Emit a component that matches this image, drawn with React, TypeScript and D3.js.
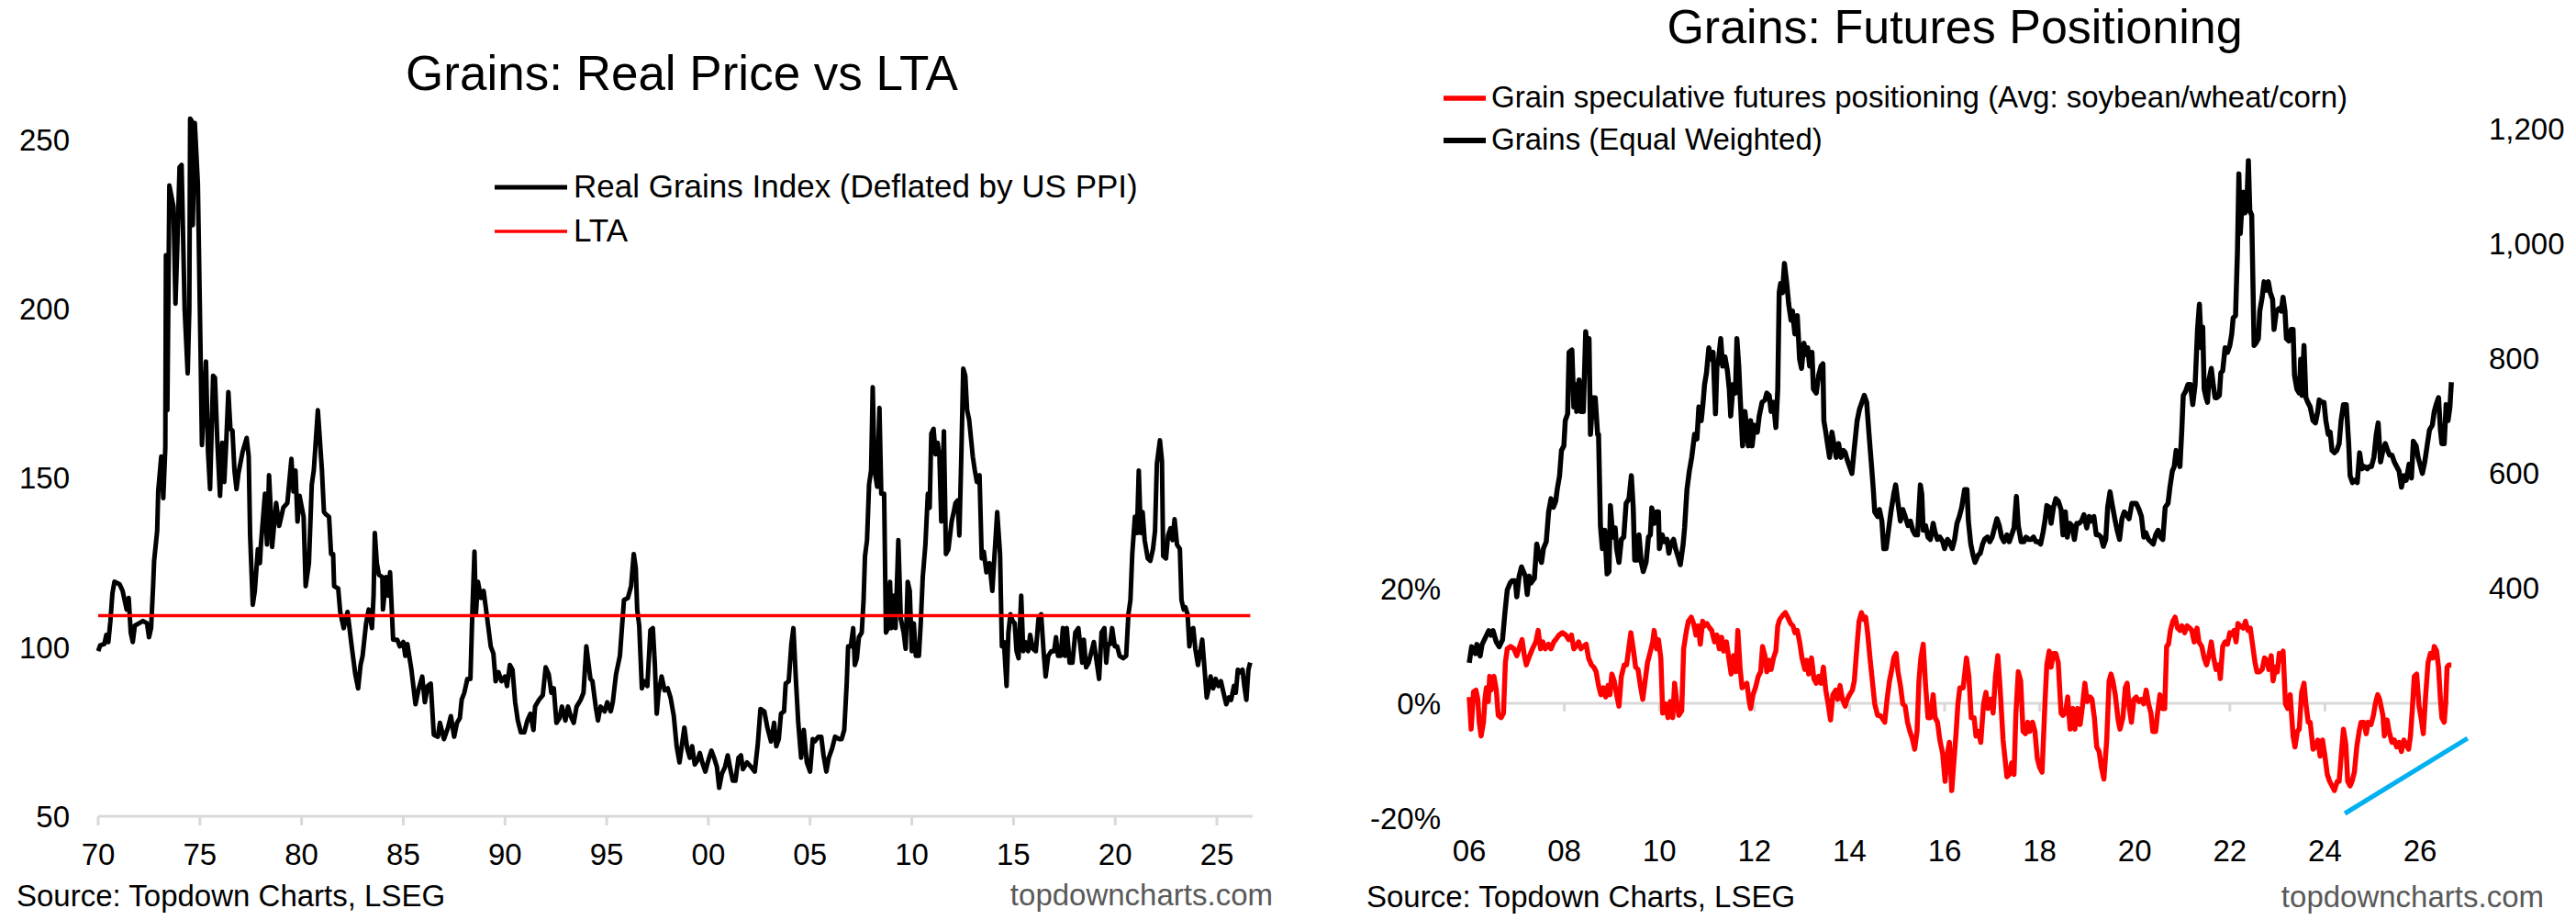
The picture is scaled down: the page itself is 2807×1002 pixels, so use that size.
import React from "react";
import * as d3 from "d3";

// ---- data ----
// Left: Real Grains Index (Deflated by US PPI), [year, value]
const realGrains: [number, number][] = [
  [1970.0,98.8],[1970.1,100.5],[1970.3,100.9],[1970.4,103.6],[1970.5,101.5],[1970.6,107.7],[1970.7,115.9],[1970.8,119.3],[1971.05,118.6],[1971.2,116.6],[1971.4,111.1],[1971.5,114.5],[1971.6,104.3],[1971.7,101.5],[1971.8,106.3],[1972.0,107],[1972.2,107.7],[1972.4,107],[1972.5,102.9],[1972.6,105.6],[1972.7,118],[1972.75,125.5],[1972.9,134.4],[1972.95,146],[1973.1,156.3],[1973.2,144],[1973.3,159],[1973.33,215.8],[1973.4,170],[1973.5,236.4],[1973.7,230.2],[1973.8,201.5],[1973.9,220.6],[1974.0,241.8],[1974.1,242.5],[1974.25,200],[1974.4,180.9],[1974.48,200],[1974.52,256.2],[1974.6,255.5],[1974.65,224.7],[1974.75,254.9],[1974.9,237],[1975.04,184.4],[1975.1,159.7],[1975.3,184.4],[1975.4,157.7],[1975.5,146.7],[1975.65,180.2],[1975.74,179.6],[1975.86,160.4],[1975.99,144.7],[1976.1,160.4],[1976.2,148.8],[1976.3,161.1],[1976.4,175.4],[1976.5,164.5],[1976.6,164],[1976.7,152.2],[1976.8,146.7],[1976.9,151.5],[1977.1,157.7],[1977.3,161.8],[1977.4,156.3],[1977.47,133],[1977.6,112.5],[1977.7,116.6],[1977.85,128.9],[1977.95,124.8],[1978.0,130.3],[1978.2,145.3],[1978.3,130.3],[1978.4,150.8],[1978.5,138.5],[1978.55,129.6],[1978.75,142.6],[1978.9,135.8],[1979.1,141.2],[1979.3,142.6],[1979.5,155.6],[1979.6,146],[1979.7,152.2],[1979.8,137.1],[1979.9,144.7],[1980.1,138.5],[1980.2,118],[1980.36,124.8],[1980.5,148],[1980.6,152.2],[1980.8,170],[1981.0,152.2],[1981.1,139.9],[1981.2,139.2],[1981.35,138.5],[1981.45,127.5],[1981.55,127.5],[1981.6,118],[1981.8,117.3],[1981.9,110.4],[1982.07,105.6],[1982.26,110.4],[1982.45,100.9],[1982.64,92],[1982.78,87.8],[1982.9,94.7],[1983.0,97.4],[1983.17,107],[1983.3,111.1],[1983.46,105.6],[1983.54,115.2],[1983.6,133.7],[1983.7,124.8],[1983.8,121.4],[1983.97,120.7],[1984.0,111.1],[1984.16,120.7],[1984.26,115.2],[1984.35,122.1],[1984.5,102.2],[1984.7,102.2],[1984.83,100.2],[1985.0,101.5],[1985.1,97.4],[1985.2,100.9],[1985.4,93.3],[1985.6,83.1],[1985.74,87.2],[1985.93,91.3],[1986.06,83.7],[1986.2,88.5],[1986.35,89.2],[1986.5,74.1],[1986.7,73.5],[1986.8,77.6],[1987.0,72.8],[1987.2,76.2],[1987.34,79.6],[1987.5,73.5],[1987.64,77.6],[1987.78,79],[1987.87,84.4],[1988.0,86.5],[1988.15,90.6],[1988.3,90.6],[1988.4,111.1],[1988.5,128.2],[1988.57,109.7],[1988.67,119.3],[1988.82,114.5],[1988.95,116.6],[1989.1,109.7],[1989.3,100.2],[1989.43,98.1],[1989.54,89.9],[1989.68,92.6],[1989.83,89.9],[1990.0,91.3],[1990.1,88.5],[1990.24,94.7],[1990.37,93.3],[1990.5,83.7],[1990.63,78.3],[1990.78,74.8],[1990.95,74.8],[1991.1,78.3],[1991.25,80.3],[1991.4,75.5],[1991.48,82.4],[1991.67,84.4],[1991.86,85.8],[1992.0,94],[1992.15,92],[1992.28,86.5],[1992.4,87.8],[1992.53,77.6],[1992.68,79],[1992.8,82.4],[1992.97,78.3],[1993.1,82.4],[1993.23,79.6],[1993.38,77.6],[1993.52,82.4],[1993.72,84.4],[1993.86,86.5],[1994.0,100.2],[1994.1,95.4],[1994.2,90.6],[1994.3,89.9],[1994.46,82.4],[1994.57,78.3],[1994.7,82.4],[1994.9,81],[1995.03,83.7],[1995.2,81],[1995.3,83.7],[1995.46,92],[1995.65,97.4],[1995.85,113.9],[1996.04,114.5],[1996.2,118],[1996.33,127.5],[1996.43,123.4],[1996.5,111.1],[1996.6,106.3],[1996.73,87.8],[1996.85,89.9],[1997.0,88.5],[1997.15,105],[1997.27,105.6],[1997.37,94.7],[1997.46,80.3],[1997.55,86.5],[1997.7,91.3],[1997.85,87.2],[1998.0,87.8],[1998.14,85.1],[1998.3,79.6],[1998.44,70.7],[1998.58,65.9],[1998.82,76.2],[1998.96,70],
  [1999.09,67.3],[1999.2,70.7],[1999.33,65.3],[1999.47,66.6],[1999.58,68.7],[1999.7,65.9],[1999.85,63.2],[2000.0,66.6],[2000.15,69.4],[2000.28,67.3],[2000.42,64.6],[2000.53,58.4],[2000.66,62.5],[2000.82,64.6],[2000.95,68],[2001.08,63.9],[2001.2,60.5],[2001.33,60.5],[2001.48,67.3],[2001.6,68],[2001.7,63.9],[2001.9,65.9],[2002.1,64.6],[2002.28,63.2],[2002.43,71.4],[2002.56,81.7],[2002.75,81],[2002.9,76.2],[2003.08,72.1],[2003.23,77.6],[2003.34,70.7],[2003.46,72.8],[2003.57,80.3],[2003.72,81],[2003.8,89.2],[2003.95,89.9],[2004.08,100.9],[2004.18,105.6],[2004.3,90.6],[2004.42,77.6],[2004.56,67.3],[2004.69,75.5],[2004.84,65.9],[2005.0,63.2],[2005.13,72.8],[2005.22,72.1],[2005.41,73.5],[2005.55,73.5],[2005.66,68],[2005.8,63.2],[2005.92,67.3],[2006.08,70],[2006.23,73.5],[2006.42,72.8],[2006.55,72.8],[2006.68,75.5],[2006.8,89.2],[2006.87,100.2],[2007.0,100.2],[2007.12,105.6],[2007.2,94.7],[2007.3,96.7],[2007.4,102.9],[2007.54,104.3],[2007.63,113.9],[2007.7,126.9],[2007.8,131.6],[2007.9,148.1],[2008.0,152.2],[2008.08,176.8],[2008.17,152.2],[2008.3,147.4],[2008.41,170.7],[2008.5,145.3],[2008.64,145.3],[2008.73,104.3],[2008.83,105.6],[2008.93,119.3],[2009.0,105.6],[2009.12,115.2],[2009.2,105.6],[2009.34,131.6],[2009.46,108.4],[2009.6,104.3],[2009.7,99.5],[2009.8,119.3],[2009.9,116.6],[2010.0,98.8],[2010.1,107],[2010.2,97.4],[2010.35,97.4],[2010.44,107],[2010.54,120.7],[2010.67,130.3],[2010.79,145.3],[2010.88,141.2],[2010.96,163.1],[2011.07,164.5],[2011.17,157],[2011.27,160.4],[2011.36,156.3],[2011.45,137.1],[2011.58,163.8],[2011.68,127.5],[2011.8,128.9],[2011.96,137.1],[2012.06,139.9],[2012.15,142.6],[2012.25,143.3],[2012.34,133],[2012.44,157.7],[2012.53,182.3],[2012.63,180.2],[2012.72,170],[2012.82,167.2],[2012.91,161.8],[2013.0,156.3],[2013.1,152.2],[2013.2,148.8],[2013.33,150.8],[2013.44,126.2],[2013.54,128.2],[2013.67,122.1],[2013.82,124.8],[2013.96,116.6],[2014.1,130.3],[2014.2,139.9],[2014.34,127.5],[2014.43,100.2],[2014.53,101.5],[2014.66,88.5],[2014.75,104.3],[2014.85,109.7],[2014.96,107.7],[2015.06,107],[2015.15,98.8],[2015.25,96.7],[2015.38,115.2],[2015.48,98.8],[2015.57,101.5],[2015.72,98.8],[2015.82,103.6],[2015.95,99.5],[2016.1,98.8],[2016.23,108.4],[2016.36,109.7],[2016.48,98.8],[2016.58,91.3],[2016.71,97.4],[2016.86,98.8],[2017.0,98.8],[2017.09,102.9],[2017.19,97.4],[2017.32,97.4],[2017.43,105.6],[2017.53,97.4],[2017.62,105.6],[2017.76,95.4],[2017.9,95.4],[2018.04,104.3],[2018.19,105.6],[2018.29,100.2],[2018.38,95.4],[2018.46,102.2],[2018.57,94],[2018.7,95.4],[2018.84,98.8],[2018.95,101.5],[2019.08,96.1],[2019.21,90.6],[2019.33,104.3],[2019.47,105.6],[2019.56,95.4],[2019.65,100.9],[2019.75,100.9],[2019.85,105.6],[2019.98,100.2],[2020.1,100.2],[2020.22,97.4],[2020.4,96.7],[2020.54,97.4],[2020.65,109.7],[2020.75,113.9],[2020.84,127.5],[2020.97,138.5],[2021.07,133.7],[2021.16,152.2],[2021.26,133.7],[2021.35,139.9],[2021.45,131.6],[2021.6,126.2],[2021.73,125.5],[2021.86,129],[2021.96,134.4],[2022.05,154.2],[2022.2,161.1],[2022.3,155],[2022.36,126.9],[2022.5,126.2],[2022.6,133],[2022.72,135.1],[2022.82,131.6],[2022.92,137.8],[2023.04,130.3],[2023.18,129],[2023.26,113.9],[2023.37,111.1],[2023.45,111.8],[2023.56,109.7],[2023.65,100.2],[2023.74,105],[2023.84,105.6],[2023.94,99.5],[2024.07,94.7],[2024.17,98.1],[2024.28,102.2],[2024.37,95.4],[2024.5,85.1],[2024.6,87.8],[2024.69,91.3],[2024.82,87.8],[2024.94,90.6],[2025.07,88.5],[2025.2,89.9],[2025.3,87.2],[2025.46,83.1],[2025.59,85.1],[2025.7,84.4],[2025.84,88.5],[2025.93,86.5],[2026.03,93.3],[2026.16,92.6],[2026.26,93.3],[2026.35,88.5],[2026.45,84.4],[2026.55,93.3],[2026.64,95.4],
];
const ltaValue = 109.3;
const leftXTicks = [1970, 1975, 1980, 1985, 1990, 1995, 2000, 2005, 2010, 2015, 2020, 2025];
const leftYTicks = [50, 100, 150, 200, 250];

// Right: Grain speculative futures positioning (% , avg soybean/wheat/corn)
const positioning: [number, number][] = [
  [2006.0,1.1],[2006.04,-4.5],[2006.09,2.0],[2006.14,2.3],[2006.18,0.7],[2006.21,-3.3],[2006.25,-5.7],[2006.3,-3.3],[2006.33,0.7],[2006.36,2.7],[2006.4,0.3],[2006.43,4.7],[2006.46,2.3],[2006.52,4.7],[2006.57,2.3],[2006.61,-2.1],[2006.67,-2.5],[2006.72,-1.7],[2006.76,7.1],[2006.8,9.5],[2006.87,9.9],[2006.94,9.5],[2007.0,8.3],[2007.06,9.9],[2007.11,11.1],[2007.16,8.3],[2007.2,6.7],[2007.27,8.3],[2007.33,9.5],[2007.4,10.7],[2007.45,12.7],[2007.5,9.5],[2007.55,10.7],[2007.6,9.5],[2007.67,10.3],[2007.72,9.5],[2007.78,10.7],[2007.82,11.1],[2007.89,11.9],[2007.96,12.3],[2008.03,11.9],[2008.09,11.1],[2008.15,11.9],[2008.2,9.5],[2008.24,9.9],[2008.3,10.7],[2008.35,9.5],[2008.4,9.9],[2008.46,10.3],[2008.51,7.9],[2008.57,6.7],[2008.62,6.3],[2008.67,5.5],[2008.72,3.1],[2008.77,1.5],[2008.82,2.7],[2008.87,1.1],[2008.92,3.1],[2008.96,1.5],[2009.0,5.1],[2009.05,3.9],[2009.1,1.5],[2009.15,-0.5],[2009.2,4.7],[2009.26,6.7],[2009.31,6.7],[2009.36,9.9],[2009.4,12.3],[2009.45,9.5],[2009.5,6.3],[2009.55,5.9],[2009.6,3.1],[2009.65,0.7],[2009.7,3.9],[2009.75,7.1],[2009.8,8.7],[2009.86,10.7],[2009.89,12.7],[2009.94,9.5],[2009.98,11.1],[2010.03,7.9],[2010.07,-1.7],[2010.13,-0.1],[2010.18,-2.5],[2010.23,0.3],[2010.28,-2.5],[2010.32,3.5],[2010.37,-0.1],[2010.41,-2.1],[2010.47,-1.3],[2010.51,9.5],[2010.57,12.7],[2010.61,14.3],[2010.67,15.0],[2010.72,13.9],[2010.77,11.9],[2010.82,13.5],[2010.86,10.3],[2010.91,14.3],[2010.95,13.5],[2011.0,13.9],[2011.06,13.1],[2011.1,12.7],[2011.16,10.7],[2011.21,11.9],[2011.26,9.5],[2011.31,11.5],[2011.35,9.1],[2011.41,10.7],[2011.46,7.9],[2011.51,5.1],[2011.56,8.3],[2011.61,5.5],[2011.65,12.7],[2011.7,5.9],[2011.74,2.7],[2011.79,3.1],[2011.84,3.5],[2011.89,0.3],[2011.92,-0.9],[2011.97,1.5],[2012.02,2.7],[2012.08,4.7],[2012.13,5.5],[2012.17,9.9],[2012.22,8.3],[2012.26,5.5],[2012.31,7.5],[2012.35,5.9],[2012.4,7.9],[2012.45,9.1],[2012.49,13.5],[2012.53,14.6],[2012.6,15.4],[2012.65,15.8],[2012.7,15.0],[2012.76,13.9],[2012.81,13.5],[2012.85,12.3],[2012.9,12.7],[2012.95,10.7],[2013.0,7.9],[2013.06,5.9],[2013.1,7.5],[2013.14,5.1],[2013.2,7.9],[2013.25,4.3],[2013.3,3.5],[2013.35,4.7],[2013.4,3.5],[2013.45,6.3],[2013.5,2.3],[2013.55,-0.1],[2013.6,-2.9],[2013.65,1.5],[2013.71,2.3],[2013.75,0.7],[2013.8,3.1],[2013.85,0.7],[2013.91,-0.5],[2013.95,0.7],[2014.0,1.5],[2014.06,2.3],[2014.1,3.9],[2014.16,10.3],[2014.2,14.3],[2014.25,15.8],[2014.3,14.6],[2014.34,15.0],[2014.38,12.3],[2014.43,7.9],[2014.48,3.9],[2014.53,-0.1],[2014.59,-2.1],[2014.64,-2.1],[2014.68,-2.5],[2014.74,-3.3],[2014.79,0.7],[2014.84,3.9],[2014.88,5.5],[2014.93,7.9],[2014.98,8.7],[2015.02,5.5],[2015.07,3.1],[2015.12,-0.1],[2015.17,-0.5],[2015.22,-3.3],[2015.27,-4.9],[2015.32,-6.1],[2015.37,-8.0],[2015.42,-4.9],[2015.46,3.9],[2015.5,7.9],[2015.55,10.3],[2015.6,3.1],[2015.65,-2.5],[2015.7,-2.5],[2015.76,1.5],[2015.8,-2.5],[2015.85,-3.3],[2015.9,-6.4],[2015.96,-8.8],[2016.01,-13.6],[2016.06,-8.8],[2016.1,-6.8],[2016.15,-15.2],[2016.2,-9.6],[2016.24,-5.3],[2016.28,-0.1],[2016.32,2.7],[2016.39,2.7],[2016.46,7.9],[2016.51,4.7],[2016.56,-2.5],[2016.62,-2.5],[2016.66,-5.7],[2016.71,-4.9],[2016.76,-6.8],[2016.82,-0.1],[2016.87,1.9],[2016.91,-0.9],[2016.97,0.7],[2017.02,-1.7],[2017.07,4.7],[2017.12,8.3],[2017.17,2.3],[2017.23,-6.4],[2017.27,-9.6],[2017.31,-12.8],[2017.36,-12.4],[2017.41,-10.4],[2017.46,-12.4],[2017.5,-1.7],[2017.55,5.5],[2017.6,3.9],[2017.65,-4.9],[2017.7,-5.3],[2017.75,-3.3],[2017.79,-4.9],[2017.85,-3.3],[2017.9,-4.9],[2017.95,-9.6],[2018.0,-11.2],[2018.05,-12.0],[2018.11,-0.1],[2018.15,6.7],[2018.2,9.1],[2018.24,6.3],[2018.29,8.7],[2018.34,8.7],[2018.39,7.1],[2018.45,-1.7],[2018.49,-2.1],[2018.54,-1.7],[2018.59,1.1],[2018.64,-4.5],[2018.7,-0.9],[2018.74,-4.5],[2018.8,-0.9],[2018.85,-3.7],[2018.9,-0.5],[2018.95,3.5],[2019.0,0.3],[2019.06,1.1],[2019.1,0.7],[2019.15,-2.5],[2019.2,-7.6],[2019.25,-8.4],[2019.3,-11.2],[2019.35,-13.2],[2019.41,-6.4],[2019.46,3.9],[2019.5,5.1],[2019.54,3.9],[2019.59,1.5],[2019.65,-2.9],[2019.69,-4.5],[2019.75,-2.5],[2019.8,2.7],[2019.84,3.5],[2019.88,-0.5],[2019.93,-3.3],[2019.98,0.7],[2020.03,1.1],[2020.09,0.3],[2020.14,0.7],[2020.19,-0.1],[2020.24,2.3],[2020.29,-0.1],[2020.34,-1.7],[2020.38,-4.9],[2020.44,-4.9],[2020.48,-1.7],[2020.53,1.5],[2020.58,-0.9],[2020.63,-0.9],[2020.67,9.9],[2020.71,10.3],[2020.75,12.7],[2020.8,14.3],[2020.85,15.0],[2020.9,13.1],[2020.95,12.7],[2020.99,13.5],[2021.05,12.3],[2021.1,13.5],[2021.16,13.1],[2021.2,12.7],[2021.25,10.7],[2021.31,13.1],[2021.35,10.7],[2021.41,9.9],[2021.46,7.9],[2021.51,6.7],[2021.56,8.3],[2021.61,10.7],[2021.66,7.9],[2021.71,5.9],[2021.77,6.7],[2021.8,4.3],[2021.85,9.9],[2021.9,10.7],[2021.95,10.3],[2022.0,12.3],[2022.04,11.9],[2022.09,12.7],[2022.13,10.7],[2022.17,13.9],[2022.22,13.5],[2022.28,13.1],[2022.33,14.3],[2022.38,12.7],[2022.43,13.1],[2022.47,10.7],[2022.53,7.1],[2022.57,5.5],[2022.63,5.5],[2022.68,5.9],[2022.73,7.9],[2022.78,7.5],[2022.82,5.9],[2022.87,8.3],[2022.91,3.9],[2022.96,6.3],[2023.0,5.5],[2023.04,8.7],[2023.08,7.9],[2023.12,9.1],[2023.17,-0.1],[2023.22,-0.9],[2023.27,1.5],[2023.33,-5.7],[2023.37,-7.6],[2023.42,-4.9],[2023.46,-4.5],[2023.51,1.9],[2023.56,3.5],[2023.6,-0.1],[2023.65,-3.3],[2023.69,-3.3],[2023.75,-8.0],[2023.8,-7.6],[2023.85,-6.4],[2023.9,-9.2],[2023.95,-6.4],[2024.0,-9.2],[2024.05,-12.4],[2024.1,-13.6],[2024.15,-14.4],[2024.2,-15.2],[2024.26,-13.6],[2024.3,-13.6],[2024.35,-8.4],[2024.39,-4.5],[2024.44,-7.2],[2024.48,-13.6],[2024.53,-14.4],[2024.57,-13.6],[2024.62,-12.0],[2024.67,-7.6],[2024.72,-4.9],[2024.76,-3.3],[2024.82,-3.3],[2024.87,-5.3],[2024.91,-3.3],[2024.97,-3.7],[2025.02,-2.1],[2025.06,-0.1],[2025.11,1.5],[2025.15,0.7],[2025.22,-2.1],[2025.25,-5.7],[2025.31,-2.9],[2025.35,-4.9],[2025.41,-6.8],[2025.46,-6.4],[2025.51,-7.6],[2025.56,-6.8],[2025.61,-8.4],[2025.66,-6.4],[2025.71,-7.2],[2025.76,-8.0],[2025.8,-5.7],[2025.84,-0.9],[2025.88,4.7],[2025.93,5.1],[2025.98,-0.5],[2026.03,-2.9],[2026.07,-5.3],[2026.12,1.5],[2026.17,7.1],[2026.22,8.7],[2026.27,7.9],[2026.3,9.9],[2026.35,9.1],[2026.39,6.3],[2026.43,0.7],[2026.46,-2.5],[2026.51,-3.3],[2026.54,-0.1],[2026.57,6.3],[2026.61,6.7],[2026.66,6.7],
];

// Right: Grains (Equal Weighted), right axis
const grainsEW: [number, number][] = [
  [2006.0,269],[2006.05,297],[2006.13,285],[2006.16,301],[2006.23,281],[2006.27,301],[2006.34,313],[2006.41,325],[2006.46,317],[2006.5,325],[2006.57,305],[2006.63,297],[2006.7,309],[2006.75,356],[2006.8,396],[2006.86,408],[2006.9,412],[2006.97,412],[2007.0,384],[2007.05,420],[2007.1,436],[2007.18,420],[2007.22,388],[2007.26,420],[2007.3,408],[2007.37,416],[2007.42,476],[2007.47,456],[2007.52,444],[2007.56,468],[2007.62,480],[2007.67,532],[2007.72,555],[2007.77,540],[2007.82,551],[2007.85,571],[2007.9,595],[2007.94,639],[2007.99,647],[2008.02,691],[2008.07,703],[2008.1,810],[2008.16,814],[2008.2,715],[2008.23,754],[2008.26,707],[2008.31,762],[2008.35,707],[2008.4,707],[2008.45,846],[2008.49,802],[2008.52,834],[2008.55,667],[2008.6,731],[2008.65,731],[2008.7,667],[2008.72,667],[2008.76,508],[2008.8,468],[2008.85,500],[2008.9,424],[2008.94,428],[2008.97,543],[2009.02,488],[2009.07,504],[2009.1,468],[2009.15,444],[2009.2,484],[2009.25,488],[2009.3,547],[2009.36,555],[2009.41,595],[2009.45,539],[2009.48,448],[2009.53,448],[2009.57,492],[2009.62,444],[2009.66,428],[2009.72,444],[2009.77,488],[2009.81,492],[2009.84,539],[2009.89,512],[2009.94,532],[2009.98,532],[2010.0,468],[2010.06,492],[2010.1,480],[2010.16,484],[2010.2,460],[2010.24,476],[2010.3,484],[2010.34,468],[2010.4,452],[2010.44,440],[2010.5,476],[2010.53,504],[2010.58,571],[2010.63,603],[2010.68,627],[2010.74,667],[2010.79,659],[2010.83,715],[2010.88,691],[2010.92,723],[2010.95,754],[2010.99,774],[2011.04,818],[2011.09,798],[2011.13,810],[2011.18,703],[2011.21,786],[2011.24,794],[2011.29,834],[2011.33,786],[2011.38,802],[2011.43,778],[2011.47,746],[2011.5,699],[2011.55,754],[2011.6,739],[2011.63,834],[2011.67,786],[2011.7,731],[2011.75,647],[2011.8,707],[2011.84,675],[2011.87,647],[2011.92,691],[2011.95,647],[2012.0,683],[2012.06,671],[2012.1,699],[2012.16,723],[2012.22,727],[2012.26,739],[2012.31,735],[2012.35,707],[2012.4,723],[2012.45,679],[2012.49,746],[2012.52,914],[2012.55,930],[2012.59,914],[2012.63,965],[2012.68,930],[2012.72,894],[2012.77,866],[2012.8,882],[2012.85,842],[2012.9,874],[2012.95,798],[2012.99,782],[2013.04,826],[2013.09,806],[2013.12,818],[2013.16,786],[2013.21,810],[2013.24,746],[2013.3,739],[2013.35,770],[2013.4,786],[2013.44,790],[2013.46,691],[2013.5,671],[2013.55,643],[2013.58,627],[2013.63,671],[2013.67,651],[2013.72,627],[2013.77,651],[2013.82,627],[2013.87,639],[2013.91,635],[2013.95,623],[2014.0,611],[2014.05,599],[2014.1,643],[2014.16,691],[2014.21,711],[2014.26,723],[2014.31,735],[2014.36,723],[2014.41,667],[2014.46,615],[2014.5,571],[2014.53,532],[2014.59,524],[2014.63,536],[2014.68,516],[2014.72,468],[2014.77,468],[2014.82,500],[2014.87,532],[2014.93,563],[2014.97,579],[2015.02,547],[2015.07,516],[2015.12,536],[2015.17,524],[2015.23,508],[2015.28,516],[2015.33,500],[2015.38,492],[2015.43,492],[2015.49,579],[2015.52,563],[2015.55,500],[2015.6,508],[2015.65,488],[2015.7,484],[2015.76,512],[2015.8,496],[2015.85,484],[2015.9,488],[2015.96,480],[2016.0,468],[2016.06,484],[2016.1,480],[2016.16,468],[2016.21,484],[2016.26,512],[2016.31,524],[2016.36,540],[2016.42,571],[2016.47,571],[2016.5,516],[2016.55,476],[2016.6,456],[2016.64,444],[2016.7,456],[2016.75,460],[2016.8,476],[2016.84,484],[2016.9,488],[2016.95,480],[2017.0,488],[2017.05,504],[2017.1,520],[2017.15,508],[2017.2,488],[2017.25,480],[2017.31,492],[2017.36,480],[2017.41,492],[2017.46,504],[2017.51,559],[2017.55,508],[2017.61,480],[2017.67,480],[2017.71,488],[2017.77,484],[2017.82,484],[2017.87,488],[2017.92,480],[2017.97,480],[2018.02,476],[2018.07,496],[2018.11,516],[2018.15,543],[2018.2,540],[2018.24,512],[2018.29,540],[2018.34,555],[2018.39,551],[2018.45,536],[2018.49,492],[2018.54,532],[2018.58,488],[2018.63,512],[2018.68,508],[2018.73,484],[2018.78,512],[2018.83,512],[2018.88,516],[2018.93,527],[2018.99,504],[2019.04,524],[2019.09,516],[2019.14,524],[2019.19,492],[2019.24,492],[2019.29,488],[2019.34,472],[2019.39,484],[2019.43,540],[2019.48,567],[2019.52,547],[2019.58,520],[2019.63,500],[2019.68,484],[2019.73,520],[2019.78,532],[2019.83,527],[2019.88,520],[2019.94,547],[2019.98,547],[2020.03,547],[2020.09,536],[2020.14,524],[2020.19,488],[2020.23,496],[2020.29,484],[2020.34,480],[2020.39,476],[2020.44,492],[2020.49,500],[2020.54,488],[2020.59,484],[2020.64,540],[2020.7,547],[2020.74,575],[2020.79,603],[2020.83,611],[2020.87,639],[2020.91,627],[2020.95,611],[2020.99,675],[2021.02,735],[2021.07,742],[2021.12,754],[2021.17,754],[2021.22,719],[2021.27,754],[2021.32,850],[2021.36,894],[2021.4,818],[2021.43,854],[2021.46,746],[2021.5,731],[2021.53,723],[2021.56,762],[2021.61,782],[2021.65,754],[2021.69,731],[2021.73,731],[2021.78,735],[2021.81,774],[2021.85,778],[2021.9,818],[2021.95,810],[2022.0,822],[2022.04,842],[2022.07,870],[2022.12,874],[2022.16,985],[2022.19,1121],[2022.22,1017],[2022.26,1073],[2022.29,1089],[2022.32,1053],[2022.36,1073],[2022.39,1144],[2022.42,1057],[2022.46,1049],[2022.51,822],[2022.55,826],[2022.6,834],[2022.63,882],[2022.68,906],[2022.72,933],[2022.76,918],[2022.81,933],[2022.85,914],[2022.9,902],[2022.93,850],[2022.98,882],[2023.03,886],[2023.08,882],[2023.12,906],[2023.16,882],[2023.19,834],[2023.24,830],[2023.29,850],[2023.33,850],[2023.36,770],[2023.41,746],[2023.46,739],[2023.49,798],[2023.52,735],[2023.56,822],[2023.6,731],[2023.64,723],[2023.69,715],[2023.75,691],[2023.8,687],[2023.85,707],[2023.88,727],[2023.94,723],[2023.98,723],[2024.02,691],[2024.07,667],[2024.11,671],[2024.15,639],[2024.2,635],[2024.25,639],[2024.3,651],[2024.34,691],[2024.39,719],[2024.45,719],[2024.5,651],[2024.53,595],[2024.58,583],[2024.63,587],[2024.68,583],[2024.73,635],[2024.78,607],[2024.83,611],[2024.89,607],[2024.93,611],[2024.98,611],[2025.03,627],[2025.08,667],[2025.12,687],[2025.17,619],[2025.22,639],[2025.27,651],[2025.32,639],[2025.36,631],[2025.41,631],[2025.46,619],[2025.51,611],[2025.56,603],[2025.61,575],[2025.66,595],[2025.71,587],[2025.77,615],[2025.82,591],[2025.86,655],[2025.92,647],[2025.96,627],[2026.0,615],[2026.05,599],[2026.1,619],[2026.15,647],[2026.2,675],[2026.26,683],[2026.3,707],[2026.34,719],[2026.39,731],[2026.43,675],[2026.46,651],[2026.51,651],[2026.55,719],[2026.59,691],[2026.63,715],[2026.66,758],
];
const rightXTicks = [2006, 2008, 2010, 2012, 2014, 2016, 2018, 2020, 2022, 2024, 2026];
const pctTicks = [-20, 0, 20];
const priceTicks = [400, 600, 800, 1000, 1200];
// hand-drawn trend annotation, [year, pct]
const trendLine: [number, number][] = [[2024.42, -19.2], [2027.0, -6.1]];

const FONT = "'Liberation Sans', Arial, Helvetica, sans-serif";
const GRID = "#d9d9d9";

export default function App() {
  const W = 2807, H = 1002;

  // left chart scales
  const xL = d3.scaleLinear().domain([1970, 2025]).range([107, 1326]);
  const yL = d3.scaleLinear().domain([50, 250]).range([889, 152]);
  const leftEnd = 2026.75;

  // right chart scales
  const xR = d3.scaleLinear().domain([2006, 2026]).range([1601, 2637]);
  const yPct = d3.scaleLinear().domain([-20, 20]).range([891, 641]);
  const yPx = d3.scaleLinear().domain([400, 1200]).range([640, 140]);
  const rightEnd = 2026.62;

  const lineL = d3.line<[number, number]>().x((d) => xL(d[0])).y((d) => yL(d[1]));
  const linePct = d3.line<[number, number]>().x((d) => xR(d[0])).y((d) => yPct(d[1]));
  const linePx = d3.line<[number, number]>().x((d) => xR(d[0])).y((d) => yPx(d[1]));

  const yrLabel = (y: number) => String(y % 100).padStart(2, "0");
  const fmtNum = d3.format(",");

  return (
    <svg width={W} height={H} style={{ position: "absolute", left: 0, top: 0, background: "#fff" }} fontFamily={FONT}>
      <rect width={W} height={H} fill="#fff" />

      {/* ---------- left chart ---------- */}
      <text x={743} y={98} fontSize={53} textAnchor="middle" fill="#000">Grains: Real Price vs LTA</text>

      <line x1={xL(1970)} x2={xL(leftEnd)} y1={yL(50)} y2={yL(50)} stroke={GRID} strokeWidth={3} />
      {leftXTicks.map((t) => (
        <g key={t}>
          <line x1={xL(t)} x2={xL(t)} y1={yL(50)} y2={yL(50) + 10} stroke={GRID} strokeWidth={3} />
          <text x={xL(t)} y={942} fontSize={33} textAnchor="middle">{yrLabel(t)}</text>
        </g>
      ))}
      {leftYTicks.map((t) => (
        <text key={t} x={76} y={yL(t)} dy="0.36em" fontSize={33} textAnchor="end">{t}</text>
      ))}

      <path d={lineL(realGrains) || ""} fill="none" stroke="#000" strokeWidth={5} strokeLinejoin="round" />
      <line x1={xL(1970)} x2={xL(2026.64)} y1={yL(ltaValue)} y2={yL(ltaValue)} stroke="#ff0000" strokeWidth={3.5} />

      <line x1={539} x2={618} y1={204} y2={204} stroke="#000" strokeWidth={5} />
      <text x={625} y={215} fontSize={35}>Real Grains Index (Deflated by US PPI)</text>
      <line x1={539} x2={618} y1={252} y2={252} stroke="#ff0000" strokeWidth={3.5} />
      <text x={625} y={263} fontSize={35}>LTA</text>

      <text x={18} y={987} fontSize={33}>Source: Topdown Charts, LSEG</text>
      <text x={1387} y={986} fontSize={33} textAnchor="end" fill="#595959">topdowncharts.com</text>

      {/* ---------- right chart ---------- */}
      <text x={2130} y={47} fontSize={52} textAnchor="middle">Grains: Futures Positioning</text>

      <line x1={xR(2006)} x2={xR(rightEnd)} y1={yPct(0)} y2={yPct(0)} stroke={GRID} strokeWidth={3} />
      {rightXTicks.map((t) => (
        <g key={t}>
          <line x1={xR(t)} x2={xR(t)} y1={yPct(0)} y2={yPct(0) + 9} stroke={GRID} strokeWidth={3} />
          <text x={xR(t)} y={938} fontSize={33} textAnchor="middle">{yrLabel(t)}</text>
        </g>
      ))}
      {pctTicks.map((t) => (
        <text key={t} x={1570} y={yPct(t)} dy="0.36em" fontSize={33} textAnchor="end">{`${t}%`}</text>
      ))}
      {priceTicks.map((t) => (
        <text key={t} x={2712} y={yPx(t)} dy="0.36em" fontSize={33} textAnchor="start">{fmtNum(t)}</text>
      ))}

      <path d={linePx(grainsEW) || ""} fill="none" stroke="#000" strokeWidth={5.5} strokeLinejoin="round" />
      <path d={linePct(positioning) || ""} fill="none" stroke="#ff0000" strokeWidth={5.5} strokeLinejoin="round" />
      <path d={linePct(trendLine) || ""} fill="none" stroke="#00b0f0" strokeWidth={5} />

      <line x1={1573} x2={1619} y1={107} y2={107} stroke="#ff0000" strokeWidth={5.5} />
      <text x={1625} y={117} fontSize={33}>Grain speculative futures positioning (Avg: soybean/wheat/corn)</text>
      <line x1={1573} x2={1619} y1={153} y2={153} stroke="#000" strokeWidth={6} />
      <text x={1625} y={163} fontSize={33}>Grains (Equal Weighted)</text>

      <text x={1489} y={988} fontSize={33}>Source: Topdown Charts, LSEG</text>
      <text x={2772} y={988} fontSize={33} textAnchor="end" fill="#595959">topdowncharts.com</text>
    </svg>
  );
}
